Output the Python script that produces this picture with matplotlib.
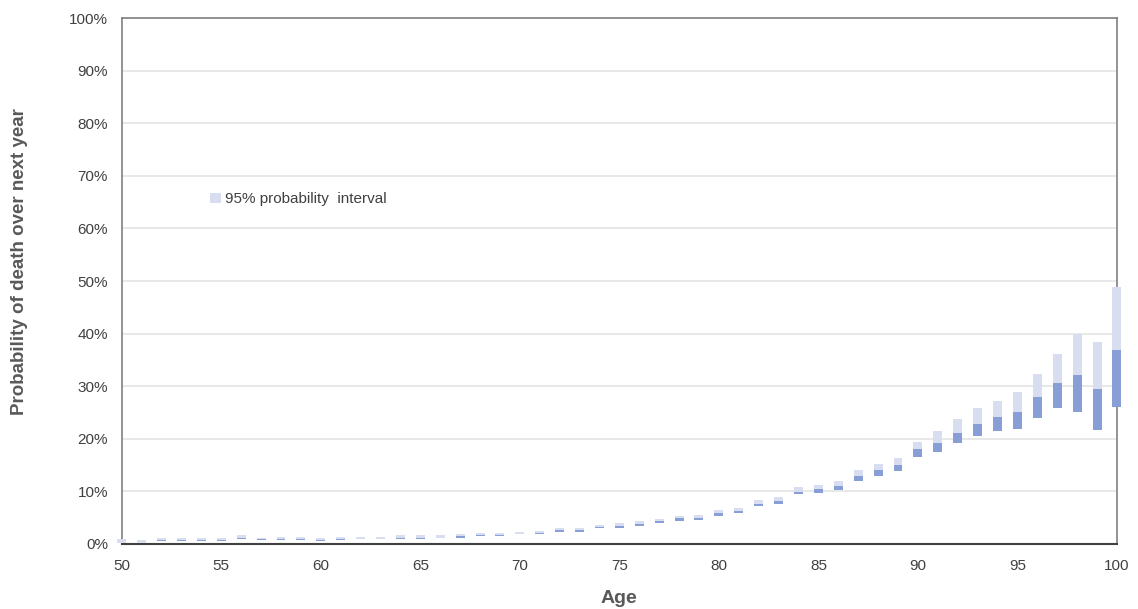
import numpy as np
import matplotlib
matplotlib.use("Agg")
import matplotlib.pyplot as plt
from matplotlib.patches import Patch

plt.rcParams["font.family"] = ["Liberation Sans", "DejaVu Sans"]

# Mortality by age: lower 2.5% bound, median and upper 97.5% bound (%)
ages = list(range(50, 101))
lower = [0.2, 0.2, 0.6, 0.6, 0.6, 0.6, 0.9, 0.8, 0.8, 0.8,
         0.6, 0.8, 0.9, 0.9, 0.9, 0.9, 1.1, 1.1, 1.5, 1.5,
         1.9, 1.9, 2.3, 2.3, 3.0, 3.0, 3.4, 4.0, 4.4, 4.6,
         5.3, 5.9, 7.2, 7.6, 9.5, 9.7, 10.3, 12.0, 13.0, 13.9,
         16.6, 17.5, 19.1, 20.6, 21.5, 21.9, 24.0, 25.9, 25.0, 21.7,
         26.1]
median = [0.25, 0.25, 0.8, 0.8, 0.8, 0.8, 1.1, 0.85, 1.0, 1.0,
          0.8, 1.0, 0.95, 0.95, 1.1, 1.1, 1.15, 1.5, 1.7, 1.7,
          1.95, 2.1, 2.7, 2.7, 3.2, 3.4, 3.8, 4.4, 4.9, 4.9,
          5.9, 6.3, 7.6, 8.2, 9.9, 10.5, 11.0, 12.9, 14.1, 15.0,
          18.1, 19.2, 21.1, 22.8, 24.1, 25.1, 27.9, 30.6, 32.1, 29.5,
          36.9]
upper = [0.9, 0.8, 1.1, 1.1, 1.1, 1.1, 1.7, 1.1, 1.3, 1.3,
         1.1, 1.3, 1.3, 1.3, 1.7, 1.7, 1.7, 1.9, 2.1, 2.1,
         2.3, 2.5, 3.0, 3.0, 3.6, 4.0, 4.4, 4.8, 5.3, 5.5,
         6.5, 6.8, 8.4, 8.9, 10.8, 11.2, 12.0, 14.1, 15.2, 16.3,
         19.4, 21.5, 23.8, 25.9, 27.2, 28.9, 32.3, 36.1, 39.9, 38.4,
         48.9]

ages = np.array(ages)
lower = np.array(lower)
median = np.array(median)
upper = np.array(upper)

light = "#D8DEF0"
dark = "#889ED6"
text_col = "#404040"

fig = plt.figure(figsize=(11.38, 6.09), dpi=100)
ax = fig.add_axes([0.107, 0.107, 0.8745, 0.863])

w = 0.45
ax.bar(ages, median - lower, bottom=lower, width=w, color=dark, zorder=3, clip_on=False)
ax.bar(ages, upper - median, bottom=median, width=w, color=light, zorder=3, clip_on=False)

ax.set_xlim(50, 100)
ax.set_ylim(0, 100)
ax.set_xticks(range(50, 101, 5))
ax.set_yticks(range(0, 101, 10))
ax.set_yticklabels([f"{v}%" for v in range(0, 101, 10)])
ax.tick_params(axis="both", length=0, labelsize=11, colors=text_col)
ax.tick_params(axis="y", pad=10)
ax.tick_params(axis="x", pad=11)

ax.grid(axis="y", color="#E4E4E4", linewidth=1.2, zorder=0)
ax.set_axisbelow(True)
for side in ["top", "right", "left"]:
    ax.spines[side].set_color("#808080")
    ax.spines[side].set_linewidth(1.2)
ax.spines["bottom"].set_color("#404040")
ax.spines["bottom"].set_linewidth(1.5)

ax.set_xlabel("Age", fontsize=14, fontweight="bold", color="#595959", labelpad=12)
fig.text(0.0175, 0.571, "Probability of death over next year", fontsize=13.5,
         fontweight="bold", color="#595959", rotation=90, ha="center", va="center")

ax.legend(handles=[Patch(facecolor=light, edgecolor="none", label="95% probability  interval")],
          loc="upper left", bbox_to_anchor=(0.075, 0.695), frameon=False,
          fontsize=11, handlelength=0.7, handleheight=0.7, handletextpad=0.3,
          labelcolor=text_col)

fig.savefig("out.png", dpi=100)
